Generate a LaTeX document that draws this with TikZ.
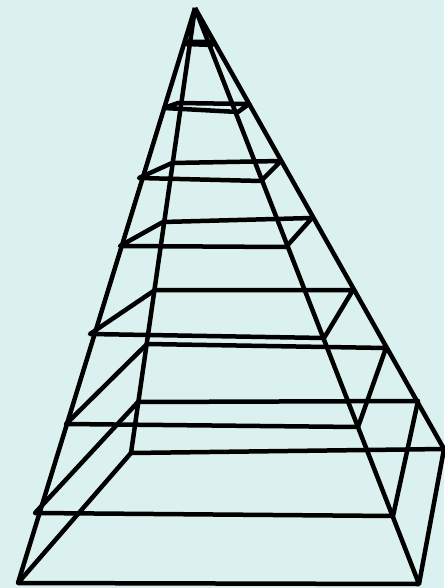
\documentclass[tikz,border=0pt]{standalone}
\usepackage{tikz}
\definecolor{Canvas}{HTML}{DAF1EF}
\definecolor{Line}{HTML}{000000}
\begin{document}
\begin{tikzpicture}[x=1pt,y=-1pt, edge/.style={draw=Line,line width=4.5pt,line join=round}]
\fill[Canvas] (0,0) rectangle (444,588);
\useasboundingbox (0,0) rectangle (444,588);
\coordinate (apex) at (195,8);
\coordinate (fl0) at (18,583);
\coordinate (fr0) at (419,584);
\coordinate (br0) at (444,449);
\coordinate (bl0) at (131,453);
\coordinate (fl1) at (35,513);
\coordinate (fr1) at (393,516);
\coordinate (br1) at (418,401);
\coordinate (bl1) at (138,402);
\coordinate (fl2) at (66,424);
\coordinate (fr2) at (358,427);
\coordinate (br2) at (386,348);
\coordinate (bl2) at (147,344);
\coordinate (fl3) at (90,334);
\coordinate (fr3) at (324,338);
\coordinate (br3) at (353,290);
\coordinate (bl3) at (155,290);
\coordinate (fl4) at (120,246);
\coordinate (fr4) at (286,247);
\coordinate (br4) at (312,218);
\coordinate (bl4) at (163,222);
\coordinate (fl5) at (139,178);
\coordinate (fr5) at (261,181);
\coordinate (br5) at (281,161);
\coordinate (bl5) at (172,163);
\coordinate (fl6) at (164,108);
\coordinate (fr6) at (238,112);
\coordinate (br6) at (249,104);
\coordinate (bl6) at (178,103);
\coordinate (fl7) at (186,44);
\coordinate (fr7) at (212,45);
\coordinate (br7) at (212,42);
\coordinate (bl7) at (188,42);
% side edges
\draw[edge] (apex)--(fl0);
\draw[edge] (apex)--(fr0);
\draw[edge] (apex)--(br0);
\draw[edge] (apex)--(bl0);
% rings
\foreach \n in {0,...,7}{
\draw[edge] (fl\n)--(fr\n)--(br\n)--(bl\n)--cycle;
}
\end{tikzpicture}
\end{document}
